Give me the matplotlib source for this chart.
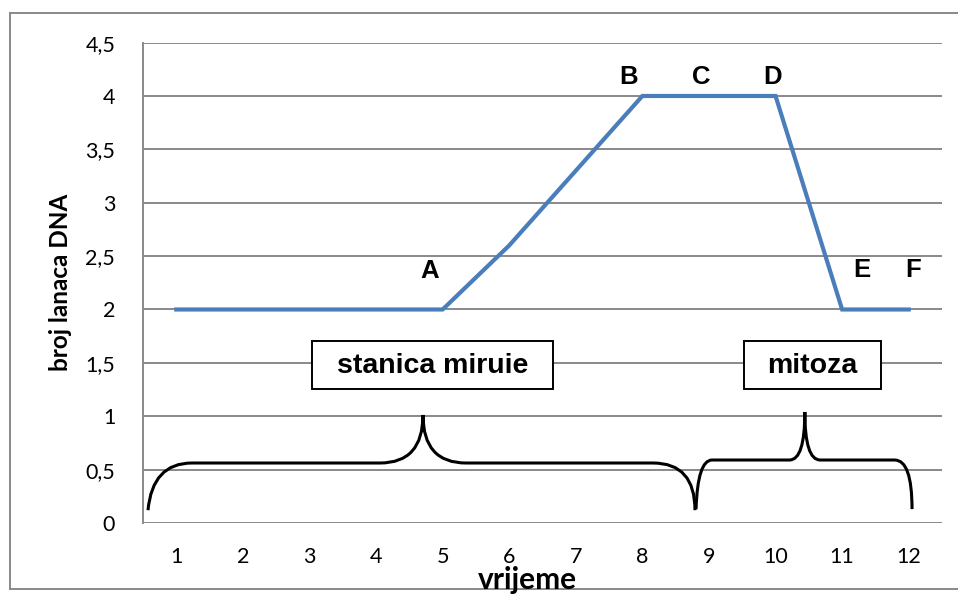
import matplotlib
matplotlib.use("Agg")
import matplotlib.pyplot as plt
from matplotlib.path import Path
from matplotlib.patches import PathPatch, Rectangle
from matplotlib.lines import Line2D
from matplotlib.ticker import FuncFormatter, MultipleLocator

# Data
vrijeme = [1, 2, 3, 4, 5, 6, 7, 8, 9, 10, 11, 12]
lanci = [2, 2, 2, 2, 2, 2.6, 3.3, 4, 4, 4, 2, 2]
tocke = ["A", "B", "C", "D", "E", "F"]
tocke_x = [4.81, 7.80, 8.88, 9.96, 11.30, 12.06]
tocke_y = [2.36, 4.18, 4.18, 4.18, 2.37, 2.37]
faze = ["stanica miruie", "mitoza"]

GRID = "#898989"
BLUE = "#4A7EBB"

fig = plt.figure(figsize=(9.58, 5.94), dpi=100)
ax = fig.add_axes([143 / 958, 71 / 594, 799 / 958, 480.4 / 594])

ax.plot(vrijeme, lanci, color=BLUE, lw=3.0, solid_joinstyle="miter", zorder=3)

ax.set_xlim(0.5, 12.5)
ax.set_ylim(0, 4.5)
ax.set_xticks(vrijeme)
ax.yaxis.set_major_locator(MultipleLocator(0.5))
ax.yaxis.set_major_formatter(FuncFormatter(lambda v, p: ("%g" % v).replace(".", ",")))
ax.tick_params(length=0, labelsize=15.5, pad=0)
ax.tick_params(axis="y", pad=20)
ax.tick_params(axis="x", pad=17)
for lab in ax.get_xticklabels() + ax.get_yticklabels():
    lab.set_fontfamily("Lato")

ax.grid(axis="y", color=GRID, lw=1.4)
ax.set_axisbelow(True)
for s in ["top", "right", "bottom"]:
    ax.spines[s].set_visible(False)
ax.spines["left"].set_color(GRID)
ax.spines["left"].set_linewidth(1.4)

# letters on the curve
for t, x, y in zip(tocke, tocke_x, tocke_y):
    ax.text(x, y, t, ha="center", va="center", fontsize=18.5, fontweight="bold",
            family="Liberation Sans")

# phase boxes
ax.add_patch(Rectangle((3.04, 1.255), 3.62, 0.45, fc="white", ec="black", lw=1.4, zorder=4))
ax.text(4.85, 1.47, faze[0], ha="center", va="center", fontsize=20.5,
        fontweight="bold", family="Liberation Sans", zorder=5)
ax.add_patch(Rectangle((9.53, 1.255), 2.05, 0.45, fc="white", ec="black", lw=1.4, zorder=4))
ax.text(10.55, 1.47, faze[1], ha="center", va="center", fontsize=20.5,
        fontweight="bold", family="Liberation Sans", zorder=5)


def brace(x0, x1, y0, yh, xt, yt, c0, c1, w):
    # curly brace: ends at y0, flat part at yh, tip at (xt, yt)
    verts = [(x0, y0), (x0 + c0 * 0.1, yh), (x0 + c0, yh),
             (xt - w, yh),
             (xt, yh), (xt, yt),
             (xt, yh), (xt + w, yh),
             (x1 - c1, yh),
             (x1, yh), (x1, y0)]
    codes = [Path.MOVETO, Path.CURVE3, Path.CURVE3,
             Path.LINETO,
             Path.CURVE3, Path.CURVE3,
             Path.CURVE3, Path.CURVE3,
             Path.LINETO,
             Path.CURVE3, Path.CURVE3]
    ax.add_patch(PathPatch(Path(verts, codes), fc="none", ec="black", lw=2.2,
                           capstyle="butt", zorder=4))


brace(0.575, 8.79, 0.12, 0.562, 4.705, 1.012, 0.66, 0.63, 0.645)
brace(8.806, 12.05, 0.13, 0.59, 10.44, 1.04, 0.24, 0.26, 0.23)

# axis titles
fig.text(61 / 958, 1 - 282 / 594, "broj lanaca DNA", rotation=90, ha="center",
         va="center", fontsize=17.5, fontweight="bold", family="Lato")
fig.text(527 / 958, 1 - 589 / 594, "vrijeme", ha="center", va="baseline",
         fontsize=21.5, fontweight="bold", family="Lato")

# outer chart frame
fy_top = 1 - 12.5 / 594
fy_bot = 1 - 589 / 594
fx_left = 10 / 958
for xs, ys in [([fx_left, 1], [fy_top, fy_top]),
               ([fx_left, fx_left], [fy_top, fy_bot]),
               ([fx_left, 1], [fy_bot, fy_bot])]:
    fig.add_artist(Line2D(xs, ys, transform=fig.transFigure, color=GRID, lw=1.4))

fig.savefig("out.png", dpi=100)
